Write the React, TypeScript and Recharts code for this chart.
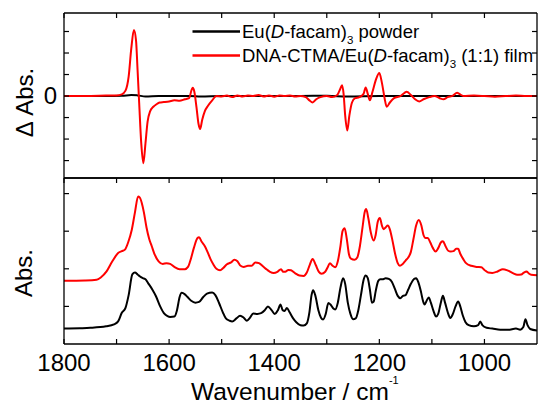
import React from 'react';
import { LineChart, Line, XAxis, YAxis } from 'recharts';

const FONT = '"Liberation Sans", Arial, Helvetica, sans-serif';

// x axis (wavenumber, cm^-1), reversed
const xDomain: [number, number] = [900, 1800];
const xTicks = [1800, 1700, 1600, 1500, 1400, 1300, 1200, 1100, 1000];
const xLabelTicks = [1800, 1600, 1400, 1200, 1000];

// top panel (difference spectra)
const deltaDomain: [number, number] = [-3.81, 3.86];
const deltaTicks = [-3, -2, -1, 0, 1, 2, 3];

// bottom panel (absorbance)
const absDomain: [number, number] = [0, 4.415];
const absTicks = [1, 2, 3, 4];

const seriesNames = ['Eu(D-facam)3 powder', 'DNA-CTMA/Eu(D-facam)3 (1:1) film'];

// Δ Abs. – powder (black), essentially flat
const powderDiff: [number, number][] = [
  [1800, 0], [1720, 0], [1690, 0.01], [1672, 0.05], [1660, 0.03], [1645, -0.02], [1620, 0],
  [1560, 0], [1540, -0.02], [1500, 0], [1400, 0], [1300, 0.01], [1260, -0.02], [1200, 0],
  [1100, 0], [1000, 0], [900, 0],
];

// Δ Abs. – film (red)
const filmDiff: [number, number][] = [
  [1800, 0], [1760, 0], [1720, 0.02], [1700, 0.03], [1690, 0.08], [1683, 0.25], [1677, 0.9],
  [1672, 2.2], [1667, 3.07], [1663, 2.6], [1660, 1.2], [1657, -0.3], [1653, -2.2], [1649, -3.12],
  [1645, -2.2], [1641, -1.2], [1636, -0.7], [1630, -0.5], [1624, -0.38], [1618, -0.3],
  [1610, -0.28], [1600, -0.25], [1590, -0.2], [1580, -0.22], [1570, -0.15], [1562, -0.1],
  [1557, 0.3], [1555, 0.38], [1552, 0.2], [1548, -0.5], [1544, -1.3], [1541, -1.53],
  [1537, -1.1], [1532, -0.7], [1526, -0.45], [1518, -0.2], [1510, 0], [1500, -0.02],
  [1490, 0.02], [1480, -0.05], [1470, 0.03], [1460, -0.02], [1450, 0.02], [1440, 0],
  [1430, 0.05], [1420, -0.02], [1410, 0.03], [1400, -0.03], [1390, 0.02], [1380, 0],
  [1370, 0.03], [1360, -0.02], [1350, 0], [1340, -0.05], [1333, -0.2], [1327, -0.3],
  [1320, -0.15], [1312, -0.05], [1300, 0], [1290, -0.05], [1280, 0.05], [1274, 0.35],
  [1271, 0.5], [1268, 0.1], [1265, -0.9], [1261, -1.6], [1257, -0.9], [1252, -0.3],
  [1246, -0.1], [1238, -0.05], [1230, 0.1], [1226, 0.4], [1222, 0.1], [1218, -0.2],
  [1213, 0.2], [1206, 0.8], [1200, 1.07], [1195, 0.6], [1190, -0.1], [1186, -0.5],
  [1180, -0.3], [1172, -0.1], [1160, 0], [1152, 0.15], [1148, 0.2], [1140, 0.05],
  [1132, -0.15], [1124, -0.25], [1116, -0.15], [1105, -0.05], [1095, 0], [1085, -0.1],
  [1078, -0.15], [1070, -0.05], [1060, 0.02], [1052, 0.15], [1048, 0.1], [1040, 0],
  [1020, 0.02], [1000, 0], [980, -0.03], [960, 0], [940, 0.02], [920, 0], [900, 0],
];

// Abs. – powder (black)
const powderAbs: [number, number][] = [
  [1800, 0.41], [1770, 0.42], [1750, 0.43], [1720, 0.47], [1705, 0.52], [1697, 0.6],
  [1690, 0.83], [1683, 0.96], [1677, 1.3], [1670, 1.85], [1665, 1.9], [1660, 1.85],
  [1656, 1.8], [1650, 1.75], [1645, 1.72], [1640, 1.62], [1632, 1.45], [1625, 1.27],
  [1617, 1.0], [1610, 0.82], [1603, 0.74], [1598, 0.72], [1590, 0.73], [1585, 0.9],
  [1580, 1.25], [1576, 1.36], [1570, 1.32], [1565, 1.25], [1558, 1.15], [1550, 1.1],
  [1543, 1.12], [1535, 1.25], [1528, 1.34], [1518, 1.37], [1512, 1.3], [1505, 1.09],
  [1498, 0.85], [1492, 0.68], [1485, 0.62], [1480, 0.6], [1472, 0.68], [1465, 0.75],
  [1458, 0.7], [1452, 0.62], [1446, 0.7], [1440, 0.81], [1432, 0.8], [1425, 0.82],
  [1418, 0.9], [1412, 1.0], [1405, 0.9], [1399, 0.8], [1393, 0.9], [1388, 1.05],
  [1384, 0.9], [1380, 0.88], [1376, 0.96], [1371, 0.85], [1364, 0.68], [1358, 0.58],
  [1350, 0.5], [1344, 0.49], [1338, 0.55], [1333, 0.85], [1329, 1.3], [1326, 1.43],
  [1322, 1.3], [1316, 0.9], [1311, 0.7], [1307, 0.65], [1302, 0.8], [1297, 1.09],
  [1293, 1.05], [1288, 0.95], [1284, 0.92], [1279, 1.1], [1274, 1.5], [1269, 1.75],
  [1265, 1.6], [1260, 1.1], [1255, 0.8], [1250, 0.66], [1245, 0.68], [1240, 0.9],
  [1235, 1.3], [1230, 1.7], [1226, 1.82], [1222, 1.75], [1218, 1.45], [1214, 1.1],
  [1211, 1.12], [1207, 1.4], [1202, 1.68], [1198, 1.72], [1194, 1.72], [1188, 1.75],
  [1182, 1.73], [1176, 1.65], [1170, 1.45], [1165, 1.28], [1160, 1.22], [1155, 1.28],
  [1150, 1.3], [1145, 1.45], [1140, 1.6], [1134, 1.73], [1130, 1.75], [1126, 1.65],
  [1121, 1.4], [1117, 1.15], [1114, 1.05], [1110, 1.15], [1106, 1.24], [1102, 1.1],
  [1097, 0.88], [1092, 0.73], [1088, 0.8], [1083, 1.1], [1079, 1.28], [1075, 1.1],
  [1070, 0.85], [1065, 0.69], [1060, 0.8], [1055, 1.0], [1050, 1.13], [1046, 1.0],
  [1041, 0.75], [1036, 0.58], [1030, 0.5], [1020, 0.47], [1012, 0.5], [1008, 0.6],
  [1004, 0.5], [996, 0.43], [985, 0.41], [970, 0.38], [955, 0.38], [940, 0.41],
  [932, 0.38], [926, 0.45], [922, 0.66], [918, 0.5], [913, 0.4], [900, 0.36],
];

// Abs. – film (red, offset)
const filmAbs: [number, number][] = [
  [1800, 1.68], [1760, 1.69], [1738, 1.71], [1730, 1.77], [1719, 1.93], [1708, 2.2],
  [1697, 2.42], [1690, 2.47], [1684, 2.51], [1678, 2.7], [1671, 3.04], [1665, 3.5],
  [1659, 3.92], [1656, 3.9], [1652, 3.75], [1648, 3.5], [1643, 3.1], [1638, 2.8],
  [1633, 2.6], [1628, 2.4], [1620, 2.2], [1612, 2.13], [1605, 2.15], [1598, 2.13],
  [1590, 2.05], [1580, 1.99], [1570, 1.99], [1564, 2.05], [1560, 2.2], [1553, 2.55],
  [1546, 2.82], [1543, 2.84], [1538, 2.72], [1532, 2.6], [1527, 2.45], [1521, 2.25],
  [1516, 2.12], [1510, 2.0], [1503, 1.96], [1497, 2.02], [1490, 2.12], [1482, 2.17],
  [1476, 2.24], [1470, 2.2], [1464, 2.08], [1458, 2.05], [1450, 2.08], [1443, 2.08],
  [1436, 2.17], [1429, 2.15], [1421, 2.06], [1414, 1.98], [1408, 1.92], [1401, 1.89],
  [1394, 1.92], [1387, 1.99], [1383, 1.92], [1379, 1.92], [1373, 1.97], [1368, 1.96],
  [1360, 1.88], [1352, 1.82], [1344, 1.81], [1338, 1.9], [1332, 2.12], [1327, 2.26],
  [1321, 2.1], [1315, 1.92], [1310, 1.87], [1303, 1.92], [1298, 2.05], [1294, 2.15],
  [1289, 2.08], [1284, 2.04], [1279, 2.2], [1274, 2.6], [1270, 3.0], [1266, 3.08],
  [1262, 2.8], [1258, 2.4], [1254, 2.27], [1247, 2.24], [1242, 2.3], [1237, 2.6],
  [1232, 3.1], [1228, 3.5], [1225, 3.59], [1221, 3.35], [1216, 2.95], [1211, 2.75],
  [1207, 2.9], [1203, 3.25], [1199, 3.35], [1195, 3.15], [1192, 3.05], [1188, 3.1],
  [1184, 3.15], [1180, 3.05], [1175, 2.75], [1170, 2.4], [1165, 2.15], [1161, 2.08],
  [1156, 2.12], [1150, 2.22], [1145, 2.3], [1140, 2.45], [1135, 2.8], [1130, 3.15],
  [1125, 3.3], [1120, 3.15], [1116, 2.9], [1112, 2.82], [1108, 2.82], [1103, 2.7],
  [1098, 2.55], [1093, 2.46], [1088, 2.55], [1083, 2.7], [1079, 2.73], [1074, 2.6],
  [1069, 2.48], [1064, 2.46], [1059, 2.47], [1054, 2.53], [1050, 2.53], [1046, 2.4],
  [1040, 2.25], [1035, 2.15], [1025, 2.08], [1015, 2.05], [1006, 2.04], [1000, 1.97],
  [993, 1.9], [985, 1.89], [975, 1.93], [965, 1.99], [955, 1.95], [945, 1.88],
  [938, 1.84], [930, 1.85], [925, 1.9], [920, 1.93], [916, 1.88], [911, 1.84], [900, 1.83],
];

const toRows = (pts: [number, number][]) => pts.map(([wn, v]) => ({ wn, v }));

const AXIS_STROKE = { stroke: '#000', strokeWidth: 1.3 };
const TICK_LEN = 5;

const tickTopInward = (p: any) => (
  <line x1={p.x} y1={p.y} x2={p.x} y2={p.y + TICK_LEN} stroke="#000" strokeWidth={1.2} />
);
const tickBottomLabelled = (p: any) => (
  <g>
    <line x1={p.x} y1={p.y} x2={p.x} y2={p.y - TICK_LEN} stroke="#000" strokeWidth={1.2} />
    {xLabelTicks.includes(p.payload.value) ? (
      <text x={p.x} y={p.y + 27} textAnchor="middle" fontSize={24} fontFamily={FONT} fill="#000">
        {p.payload.value}
      </text>
    ) : null}
  </g>
);
const tickLeftInward = (p: any) => (
  <line x1={p.x} y1={p.y} x2={p.x + TICK_LEN} y2={p.y} stroke="#000" strokeWidth={1.2} />
);
const tickLeftZero = (p: any) => (
  <g>
    <line x1={p.x} y1={p.y} x2={p.x + TICK_LEN} y2={p.y} stroke="#000" strokeWidth={1.2} />
    {p.payload.value === 0 ? (
      <text x={p.x - 7} y={p.y + 8} textAnchor="end" fontSize={24} fontFamily={FONT} fill="#000">
        0
      </text>
    ) : null}
  </g>
);
const tickRightInward = (p: any) => (
  <line x1={p.x} y1={p.y} x2={p.x - TICK_LEN} y2={p.y} stroke="#000" strokeWidth={1.2} />
);

const W = 538;

export default function App() {
  const powderDiffRows = toRows(powderDiff);
  const filmDiffRows = toRows(filmDiff);
  const powderAbsRows = toRows(powderAbs);
  const filmAbsRows = toRows(filmAbs);

  const xCommon = {
    type: 'number' as const,
    dataKey: 'wn',
    domain: xDomain,
    reversed: true,
    ticks: xTicks,
    interval: 0 as const,
    allowDataOverflow: true,
    tickSize: 0,
    tickMargin: 0,
    tickLine: false,
    axisLine: AXIS_STROKE,
  };

  return (
    <div style={{ position: 'absolute', left: 0, top: 0, width: W, height: 404, background: '#fff', fontFamily: FONT }}>
      {/* Top panel: difference spectra */}
      <div style={{ position: 'absolute', left: 0, top: 0 }}>
        <LineChart width={W} height={179} margin={{ top: 0, right: 0, bottom: 0, left: 0 }}>
          <XAxis xAxisId="top" orientation="top" height={13} {...xCommon} tick={tickTopInward} />
          <XAxis xAxisId="bot" orientation="bottom" height={1} {...xCommon} tick={false} />
          <YAxis
            yAxisId="l"
            orientation="left"
            width={64}
            type="number"
            domain={deltaDomain}
            ticks={deltaTicks}
            interval={0}
            allowDataOverflow
            tickSize={0}
            tickMargin={0}
            tickLine={false}
            axisLine={AXIS_STROKE}
            tick={tickLeftZero}
          />
          <YAxis
            yAxisId="r"
            orientation="right"
            width={1}
            type="number"
            domain={deltaDomain}
            ticks={deltaTicks}
            interval={0}
            allowDataOverflow
            tickSize={0}
            tickMargin={0}
            tickLine={false}
            axisLine={AXIS_STROKE}
            tick={tickRightInward}
          />
          <Line
            xAxisId="bot"
            yAxisId="l"
            data={powderDiffRows}
            dataKey="v"
            name={seriesNames[0]}
            type="monotone"
            stroke="#000"
            strokeWidth={2}
            dot={false}
            isAnimationActive={false}
          />
          <Line
            xAxisId="bot"
            yAxisId="l"
            data={filmDiffRows}
            dataKey="v"
            name={seriesNames[1]}
            type="monotone"
            stroke="#ff0000"
            strokeWidth={2}
            dot={false}
            isAnimationActive={false}
          />
        </LineChart>
      </div>

      {/* Bottom panel: absorbance spectra */}
      <div style={{ position: 'absolute', left: 0, top: 177 }}>
        <LineChart width={W} height={227} margin={{ top: 0, right: 0, bottom: 0, left: 0 }}>
          <XAxis xAxisId="top" orientation="top" height={1} {...xCommon} tick={tickTopInward} />
          <XAxis xAxisId="bot" orientation="bottom" height={60} {...xCommon} tick={tickBottomLabelled} />
          <YAxis
            yAxisId="l"
            orientation="left"
            width={64}
            type="number"
            domain={absDomain}
            ticks={absTicks}
            interval={0}
            allowDataOverflow
            tickSize={0}
            tickMargin={0}
            tickLine={false}
            axisLine={AXIS_STROKE}
            tick={tickLeftInward}
          />
          <YAxis
            yAxisId="r"
            orientation="right"
            width={1}
            type="number"
            domain={absDomain}
            ticks={absTicks}
            interval={0}
            allowDataOverflow
            tickSize={0}
            tickMargin={0}
            tickLine={false}
            axisLine={AXIS_STROKE}
            tick={tickRightInward}
          />
          <Line
            xAxisId="bot"
            yAxisId="l"
            data={powderAbsRows}
            dataKey="v"
            name={seriesNames[0]}
            type="monotone"
            stroke="#000"
            strokeWidth={2}
            dot={false}
            isAnimationActive={false}
          />
          <Line
            xAxisId="bot"
            yAxisId="l"
            data={filmAbsRows}
            dataKey="v"
            name={seriesNames[1]}
            type="monotone"
            stroke="#ff0000"
            strokeWidth={2}
            dot={false}
            isAnimationActive={false}
          />
        </LineChart>
      </div>

      {/* Titles and legend */}
      <svg
        width={W}
        height={404}
        style={{ position: 'absolute', left: 0, top: 0, pointerEvents: 'none' }}
        fontFamily={FONT}
      >
        <text x={33} y={102.5} transform="rotate(-90 33 102.5)" textAnchor="middle" fontSize={24} fill="#000">
          Δ Abs.
        </text>
        <text x={31.5} y={273} transform="rotate(-90 31.5 273)" textAnchor="middle" fontSize={24} fill="#000">
          Abs.
        </text>
        <text x={191} y={400} fontSize={24.5} fill="#000">
          Wavenumber / cm
          <tspan fontSize={11} dy={-16}>-1</tspan>
        </text>

        <line x1={192.5} y1={31.5} x2={240} y2={31.5} stroke="#000" strokeWidth={2.5} />
        <text x={242} y={38.2} fontSize={18.5} fill="#000">
          Eu(<tspan fontStyle="italic">D</tspan>-facam)
          <tspan fontSize={11.5} dy={5.5}>3</tspan>
          <tspan dy={-5.5}> powder</tspan>
        </text>
        <line x1={192.5} y1={55.5} x2={240} y2={55.5} stroke="#ff0000" strokeWidth={2.5} />
        <text x={242} y={62.2} fontSize={18.5} fill="#000">
          DNA-CTMA/Eu(<tspan fontStyle="italic">D</tspan>-facam)
          <tspan fontSize={11.5} dy={5.5}>3</tspan>
          <tspan dy={-5.5}> (1:1) film</tspan>
        </text>
      </svg>
    </div>
  );
}
